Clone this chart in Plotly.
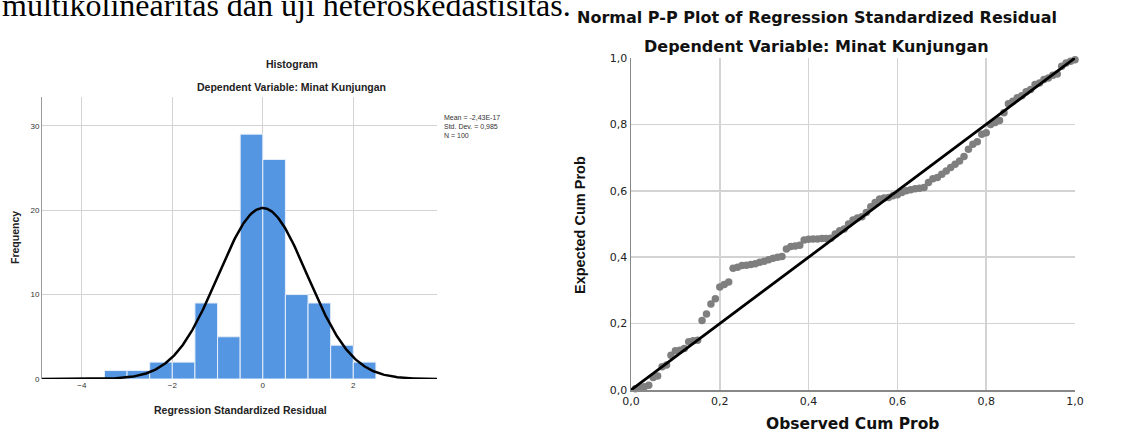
import numpy as np
import plotly.graph_objects as go

W, H = 1137, 435

# ---------------- data ----------------
bin_centers = [-3.25, -2.75, -2.25, -1.75, -1.25, -0.75, -0.25, 0.25, 0.75, 1.25, 1.75, 2.25]
bin_counts = [1, 1, 2, 2, 9, 5, 29, 26, 10, 9, 4, 2]
bin_width = 0.5
res_mean = -2.43e-17
res_sd = 0.985
res_n = 100
hist_xticks = [-4, -2, 0, 2]
hist_yticks = [0, 10, 20, 30]

observed_cum = [0.01, 0.02, 0.03, 0.04, 0.05, 0.06, 0.07, 0.08, 0.09, 0.10,
                0.11, 0.12, 0.13, 0.14, 0.15, 0.16, 0.17, 0.18, 0.19, 0.20,
                0.21, 0.22, 0.23, 0.24, 0.25, 0.26, 0.27, 0.28, 0.29, 0.30,
                0.31, 0.32, 0.33, 0.34, 0.35, 0.36, 0.37, 0.38, 0.39, 0.40,
                0.41, 0.42, 0.43, 0.44, 0.45, 0.46, 0.47, 0.48, 0.49, 0.50,
                0.51, 0.52, 0.53, 0.54, 0.55, 0.56, 0.57, 0.58, 0.59, 0.60,
                0.61, 0.62, 0.63, 0.64, 0.65, 0.66, 0.67, 0.68, 0.69, 0.70,
                0.71, 0.72, 0.73, 0.74, 0.75, 0.76, 0.77, 0.78, 0.79, 0.80,
                0.81, 0.82, 0.83, 0.84, 0.85, 0.86, 0.87, 0.88, 0.89, 0.90,
                0.91, 0.92, 0.93, 0.94, 0.95, 0.96, 0.97, 0.98, 0.99, 1.00]
expected_cum = [0.004, 0.006, 0.010, 0.014, 0.038, 0.042, 0.070, 0.075, 0.105, 0.118,
                0.120, 0.125, 0.145, 0.148, 0.150, 0.209, 0.229, 0.259, 0.275, 0.310,
                0.318, 0.325, 0.367, 0.370, 0.375, 0.376, 0.378, 0.380, 0.385, 0.388,
                0.392, 0.397, 0.400, 0.402, 0.425, 0.432, 0.434, 0.436, 0.452, 0.454,
                0.455, 0.455, 0.456, 0.456, 0.457, 0.470, 0.480, 0.485, 0.500, 0.512,
                0.518, 0.522, 0.535, 0.552, 0.565, 0.575, 0.578, 0.580, 0.585, 0.588,
                0.595, 0.600, 0.603, 0.606, 0.608, 0.610, 0.625, 0.636, 0.640, 0.650,
                0.660, 0.670, 0.680, 0.690, 0.703, 0.725, 0.740, 0.748, 0.770, 0.775,
                0.800, 0.806, 0.812, 0.835, 0.862, 0.870, 0.880, 0.886, 0.898, 0.905,
                0.920, 0.925, 0.935, 0.940, 0.948, 0.952, 0.975, 0.985, 0.990, 0.995]
diag_line = [0, 1]
pp_ticks = [0.0, 0.2, 0.4, 0.6, 0.8, 1.0]
pp_ticktext = ["0,0", "0,2", "0,4", "0,6", "0,8", "1,0"]

# ---------------- helpers ----------------
def px_x(p):
    return p / W

def px_y(p):
    return 1 - p / H

SANS = "Liberation Sans, Arial, sans-serif"
WIDE = "DejaVu Sans, sans-serif"

fig = go.Figure()

# Histogram bars
fig.add_trace(go.Bar(
    x=bin_centers, y=bin_counts, width=bin_width,
    marker=dict(color="#5596e3", line=dict(color="#e6eef9", width=1)),
    xaxis="x", yaxis="y", showlegend=False,
))

# Normal curve from the stated mean / sd / N
xr = np.linspace(-4.88, 3.85, 400)
curve = res_n * bin_width * np.exp(-0.5 * ((xr - res_mean) / res_sd) ** 2) / (res_sd * np.sqrt(2 * np.pi))
fig.add_trace(go.Scatter(
    x=xr, y=curve, mode="lines", line=dict(color="black", width=2.5),
    xaxis="x", yaxis="y", showlegend=False, cliponaxis=False,
))

# P-P points
fig.add_trace(go.Scatter(
    x=observed_cum, y=expected_cum, mode="markers",
    marker=dict(color="#7f7f7f", size=7.5, line=dict(width=0)),
    xaxis="x2", yaxis="y2", showlegend=False, cliponaxis=False,
))
# diagonal on top
fig.add_trace(go.Scatter(
    x=diag_line, y=diag_line, mode="lines", line=dict(color="black", width=2.8),
    xaxis="x2", yaxis="y2", showlegend=False, cliponaxis=False,
))

grid_c = "#d3d3d3"
fig.update_layout(
    template="none",
    width=W, height=H,
    margin=dict(l=0, r=0, t=0, b=0, pad=0, autoexpand=False),
    paper_bgcolor="white", plot_bgcolor="white",
    separators=",.",
    bargap=0,
    showlegend=False,
    hovermode=False,
    xaxis=dict(
        domain=[px_x(42), px_x(437)], range=[-4.88, 3.85], automargin=False,
        tickvals=hist_xticks, showgrid=True, gridcolor=grid_c, gridwidth=1,
        zeroline=False, showline=False, ticks="",
        tickfont=dict(family=SANS, size=8, color="#333"),
    ),
    yaxis=dict(
        domain=[px_y(379), px_y(97)], range=[0, 33.4], automargin=False,
        tickvals=hist_yticks, showgrid=True, gridcolor=grid_c, gridwidth=1,
        zeroline=False, showline=True, linecolor="#999", linewidth=1, ticks="",
        tickfont=dict(family=SANS, size=8, color="#333"),
    ),
    xaxis2=dict(
        domain=[px_x(631), px_x(1075)], range=[0, 1], automargin=False,
        tickvals=pp_ticks, ticktext=pp_ticktext,
        showgrid=True, gridcolor=grid_c, gridwidth=1.5,
        zeroline=False, showline=True, linecolor="#888", linewidth=1.5, ticks="",
        tickfont=dict(family=WIDE, size=11, color="#222"),
        anchor="y2",
    ),
    yaxis2=dict(
        domain=[px_y(390), px_y(58)], range=[0, 1], automargin=False,
        tickvals=pp_ticks, ticktext=pp_ticktext,
        showgrid=True, gridcolor=grid_c, gridwidth=1.5,
        zeroline=False, showline=True, linecolor="#888", linewidth=1.5, ticks="",
        tickfont=dict(family=WIDE, size=11, color="#222"),
        anchor="x2",
    ),
)

ann = []
# document text (cut at top, as in the reference)
ann.append(dict(text="multikolinearitas dan uji heteroskedastisitas.", x=0, y=px_y(25),
                xref="paper", yref="paper", xanchor="left", yanchor="bottom", showarrow=False,
                font=dict(family="Liberation Serif, Times New Roman, serif", size=32, color="black")))
# histogram titles
ann.append(dict(text="<b>Histogram</b>", x=px_x(292), y=px_y(64), xref="paper", yref="paper",
                xanchor="center", yanchor="middle", showarrow=False,
                font=dict(family=SANS, size=10.5, color="#222")))
ann.append(dict(text="<b>Dependent Variable: Minat Kunjungan</b>", x=px_x(291), y=px_y(87),
                xref="paper", yref="paper", xanchor="center", yanchor="middle", showarrow=False,
                font=dict(family=SANS, size=10.5, color="#222")))
ann.append(dict(text="<b>Frequency</b>", x=px_x(15), y=px_y(238), xref="paper", yref="paper",
                xanchor="center", yanchor="middle", showarrow=False, textangle=-90,
                font=dict(family=SANS, size=10.5, color="#222")))
ann.append(dict(text="<b>Regression Standardized Residual</b>", x=px_x(240), y=px_y(410),
                xref="paper", yref="paper", xanchor="center", yanchor="middle", showarrow=False,
                font=dict(family=SANS, size=10.5, color="#222")))
ann.append(dict(text="Mean = -2,43E-17<br>Std. Dev. = 0,985<br>N = 100", x=px_x(442), y=px_y(112),
                xref="paper", yref="paper", xanchor="left", yanchor="top", align="left",
                showarrow=False, font=dict(family=SANS, size=7, color="#333")))
# P-P titles
ann.append(dict(text="<b>Normal P-P Plot of Regression Standardized Residual</b>", x=px_x(817), y=px_y(18),
                xref="paper", yref="paper", xanchor="center", yanchor="middle", showarrow=False,
                font=dict(family=WIDE, size=16, color="#111")))
ann.append(dict(text="<b>Dependent Variable: Minat Kunjungan</b>", x=px_x(816), y=px_y(47),
                xref="paper", yref="paper", xanchor="center", yanchor="middle", showarrow=False,
                font=dict(family=WIDE, size=16, color="#111")))
ann.append(dict(text="<b>Expected Cum Prob</b>", x=px_x(580), y=px_y(225), xref="paper", yref="paper",
                xanchor="center", yanchor="middle", showarrow=False, textangle=-90,
                font=dict(family=SANS, size=14.5, color="#111")))
ann.append(dict(text="<b>Observed Cum Prob</b>", x=px_x(852), y=px_y(424), xref="paper", yref="paper",
                xanchor="center", yanchor="middle", showarrow=False,
                font=dict(family=WIDE, size=15.5, color="#111")))
fig.update_layout(annotations=ann)

fig.write_html("out.html", config={"displayModeBar": False, "staticPlot": True},
               post_script="document.body.style.margin='0px';")
